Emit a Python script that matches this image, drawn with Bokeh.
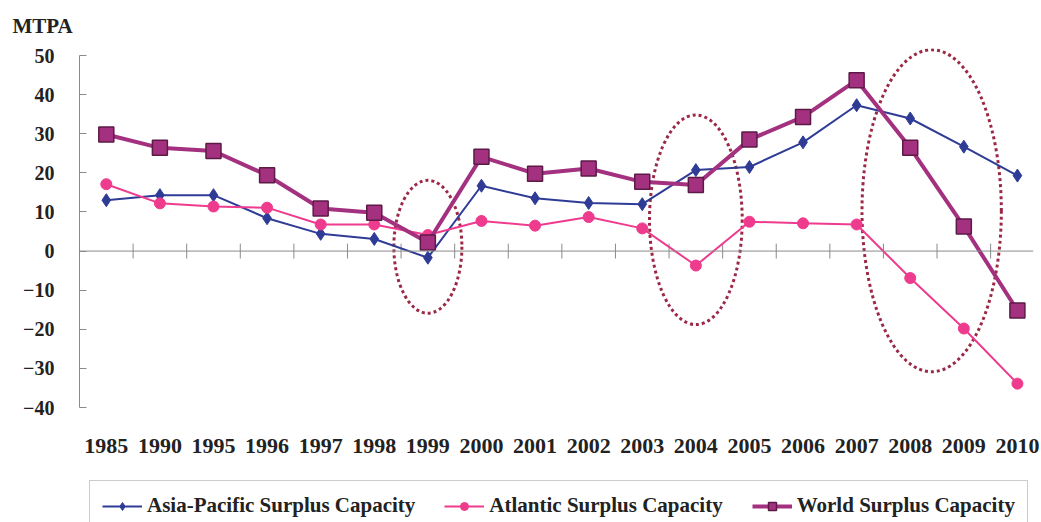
from bokeh.plotting import figure
from bokeh.layouts import column
from bokeh.models import (Range1d, FixedTicker, Legend, LegendItem, Span, Title)
from bokeh.embed import file_html
from bokeh.resources import INLINE

years = ["1985", "1990", "1995", "1996", "1997", "1998", "1999", "2000", "2001",
         "2002", "2003", "2004", "2005", "2006", "2007", "2008", "2009", "2010"]
asia_pacific = [13.0, 14.3, 14.3, 8.4, 4.4, 3.1, -1.7, 16.7, 13.5,
                12.3, 12.0, 20.7, 21.5, 27.8, 37.3, 33.9, 26.7, 19.3]
atlantic = [17.1, 12.2, 11.4, 11.1, 6.8, 6.8, 4.1, 7.7, 6.5,
            8.7, 5.8, -3.7, 7.5, 7.1, 6.8, -6.9, -19.8, -33.9]
world = [29.8, 26.4, 25.6, 19.4, 10.9, 9.8, 2.2, 24.1, 19.8,
         21.1, 17.7, 16.9, 28.5, 34.3, 43.7, 26.4, 6.3, -15.2]
y_ticks = [-40, -30, -20, -10, 0, 10, 20, 30, 40, 50]
series_names = ["Asia-Pacific Surplus Capacity", "Atlantic Surplus Capacity",
                "World Surplus Capacity"]

# highlighted periods (ellipses): center category position, center value, width (categories), height (MTPA)
hl_x = [6.0, 11.0, 15.4]
hl_y = [1.1, 8.0, 10.3]
hl_w = [1.27, 1.73, 2.6]
hl_h = [34.0, 53.6, 82.4]

xs = list(range(len(years)))
FONT = "Liberation Serif"
TXT = "#222222"
blue = "#2f3c96"
pink = "#ee3b8e"
purple = "#a3317f"
square_edge = "#5c1a47"


def add_series(fig):
    r1 = [fig.line(xs, asia_pacific, line_color=blue, line_width=2),
          fig.scatter(xs, asia_pacific, marker="diamond", size=13, fill_color=blue, line_color=blue)]
    r2 = [fig.line(xs, atlantic, line_color=pink, line_width=2),
          fig.scatter(xs, atlantic, marker="circle", size=11, fill_color=pink, line_color=pink)]
    r3 = [fig.line(xs, world, line_color=purple, line_width=4),
          fig.scatter(xs, world, marker="square", size=15, fill_color=purple,
                      line_color=square_edge, line_width=1.5)]
    return [r1, r2, r3]


p = figure(width=1041, height=470, output_backend="svg", toolbar_location=None,
           x_range=Range1d(-0.5, 17.3), y_range=Range1d(-40, 51.8),
           min_border_left=79, min_border_top=47, min_border_right=8, min_border_bottom=63)
p.outline_line_color = None
p.xgrid.visible = False
p.ygrid.visible = False
p.background_fill_color = "white"
p.border_fill_color = "white"

# y axis
ya = p.yaxis[0]
ya.ticker = FixedTicker(ticks=y_ticks)
ya.bounds = (-40, 50)
ya.axis_line_color = "#8a8a8a"
ya.major_tick_line_color = "#8a8a8a"
ya.major_tick_in = 7
ya.major_tick_out = 0
ya.minor_tick_line_color = None
ya.major_label_text_font = FONT
ya.major_label_text_font_style = "bold"
ya.major_label_text_font_size = "20px"
ya.major_label_text_color = TXT
ya.major_label_standoff = 25

# x axis (labels only, at bottom)
xa = p.xaxis[0]
xa.ticker = FixedTicker(ticks=xs)
xa.major_label_overrides = {i: y for i, y in zip(xs, years)}
xa.axis_line_color = None
xa.major_tick_line_color = None
xa.minor_tick_line_color = None
xa.major_label_text_font = FONT
xa.major_label_text_font_style = "bold"
xa.major_label_text_font_size = "22px"
xa.major_label_text_color = TXT
xa.major_label_standoff = 25

# zero line with category-boundary ticks
p.add_layout(Span(location=0, dimension="width", line_color="#8a8a8a", line_width=1))
bx = [i + 0.5 for i in xs[:-1]]
p.segment(x0=bx, x1=bx, y0=[-1.9] * len(bx), y1=[1.9] * len(bx),
          line_color="#8a8a8a", line_width=1)

# highlight ellipses
p.ellipse(x=hl_x, y=hl_y, width=hl_w, height=hl_h, fill_color=None,
          line_color="#9b2946", line_width=3, line_dash="3 3")

add_series(p)

title = Title(text="MTPA", align="left", offset=-67, standoff=22,
              text_font=FONT, text_font_style="bold", text_font_size="21px",
              text_color=TXT)
p.add_layout(title, "above")

# legend strip (separate figure; its series lie outside its view, only the legend shows)
lg = figure(width=1041, height=52, output_backend="svg", toolbar_location=None,
            x_range=Range1d(0, 1), y_range=Range1d(1000, 1001),
            min_border_left=60, min_border_right=0, min_border_top=0, min_border_bottom=0)
lg.axis.visible = False
lg.grid.visible = False
lg.outline_line_color = None
lg.border_fill_color = "white"
groups = add_series(lg)
legend = Legend(items=[LegendItem(label=n, renderers=r) for n, r in zip(series_names, groups)],
                orientation="horizontal", location="top_left")
legend.label_text_font = FONT
legend.label_text_font_style = "bold"
legend.label_text_font_size = "21px"
legend.label_text_color = TXT
legend.border_line_color = "#9a9a9a"
legend.glyph_width = 40
legend.spacing = 29
legend.padding = 12
legend.margin = 10
lg.add_layout(legend, "center")

layout = column(p, lg, spacing=0)
open("out.html", "w").write(file_html(layout, INLINE))
